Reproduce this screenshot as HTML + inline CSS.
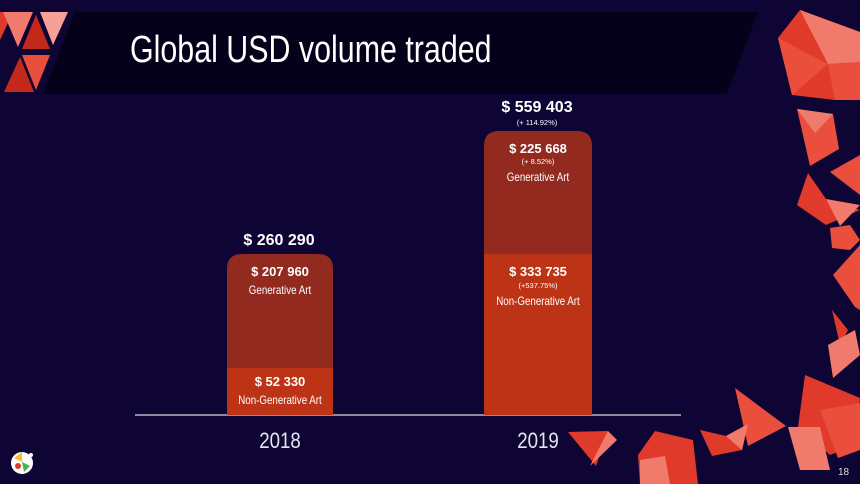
<!DOCTYPE html>
<html><head><meta charset="utf-8"><style>
html,body{margin:0;padding:0;background:#0f0535;}
svg{display:block}
text{font-family:"Liberation Sans",sans-serif;fill:#fff}
</style></head><body>
<svg width="860" height="484" viewBox="0 0 860 484" xmlns="http://www.w3.org/2000/svg">
<rect width="860" height="484" fill="#0f0535"/>
<polygon points="75,12 758,12 727,94 43,94" fill="#05011a"/>
<text x="130" y="62" font-size="38" transform="translate(130,0) scale(0.80,1) translate(-130,0)" style="fill:#fff">Global USD volume traded</text>
<polygon points="0,12 13,12 0,40" fill="#e03a2a"/>
<polygon points="3,12 33,12 18,47" fill="#f07a6c"/>
<polygon points="40,12 68,12 53,45" fill="#f5a196"/>
<polygon points="22,49 36,15 50,49" fill="#c4281a"/>
<polygon points="22,55 50,55 36,90" fill="#e94f3c"/>
<polygon points="4,92 20,57 34,92" fill="#c4281a"/>
<polygon points="800,10 860,32 860,80 835,100 792,95 778,38" fill="#e03a2a"/>
<polygon points="800,10 860,32 860,62 828,64" fill="#f07a6c"/>
<polygon points="778,38 828,64 792,95" fill="#e94f3c"/>
<polygon points="828,64 860,62 860,100 835,100" fill="#e94f3c"/>
<polygon points="797,109 833,114 839,149 810,166" fill="#e94f3c"/>
<polygon points="797,109 833,114 815,133" fill="#f07a6c"/>
<polygon points="830,172 860,155 860,195" fill="#e94f3c"/>
<polygon points="808,173 826,199 860,210 826,225 797,205" fill="#e03a2a"/>
<polygon points="826,199 860,205 840,226" fill="#f07a6c"/>
<polygon points="830,228 850,225 860,240 850,250 832,248" fill="#e94f3c"/>
<polygon points="833,275 860,245 860,310 855,307" fill="#e94f3c"/>
<polygon points="832,310 848,330 840,345" fill="#e03a2a"/>
<polygon points="828,345 855,330 860,355 833,378" fill="#f07a6c"/>
<polygon points="735,388 786,426 748,446" fill="#e94f3c"/>
<polygon points="700,430 726,436 748,424 742,450 712,456" fill="#e03a2a"/>
<polygon points="726,436 748,424 742,450" fill="#f07a6c"/>
<polygon points="805,375 860,398 855,445 830,455 798,427" fill="#e03a2a"/>
<polygon points="788,427 820,427 830,470 800,470" fill="#f07a6c"/>
<polygon points="820,410 860,403 860,450 838,458" fill="#e94f3c"/>
<polygon points="568,432 608,431 596,466" fill="#e03a2a"/>
<polygon points="590,466 608,431 617,440" fill="#f07a6c"/>
<polygon points="655,431 693,440 698,484 640,484 638,455" fill="#e03a2a"/>
<polygon points="640,460 665,456 670,484 640,484" fill="#f07a6c"/>
<line x1="135" y1="415" x2="681" y2="415" stroke="#b8b8c4" stroke-width="1.5"/>
<path d="M227,415 V269 Q227,254 242,254 H318 Q333,254 333,269 V415 Z" fill="#922a1f"/>
<rect x="227" y="368" width="106" height="47" fill="#bd3316"/>
<path d="M484,254 V146 Q484,131 499,131 H577 Q592,131 592,146 V254 Z" fill="#922a1f"/>
<rect x="484" y="254" width="108" height="161" fill="#bd3316"/>
<g text-anchor="middle">
<text x="279" y="245" font-size="16" font-weight="bold">$ 260  290</text>
<text x="280" y="276" font-size="13" font-weight="bold">$ 207 960</text>
<text x="280" y="294" font-size="11.5" transform="translate(280,0) scale(0.85,1) translate(-280,0)">Generative Art</text>
<text x="280" y="386" font-size="13" font-weight="bold">$ 52 330</text>
<text x="280" y="404" font-size="11.5" transform="translate(280,0) scale(0.85,1) translate(-280,0)">Non-Generative Art</text>
<text x="537" y="112" font-size="16" font-weight="bold">$ 559  403</text>
<text x="537" y="125" font-size="7.5">(+ 114.92%)</text>
<text x="538" y="153" font-size="13" font-weight="bold">$ 225  668</text>
<text x="538" y="164" font-size="7.5">(+ 8.52%)</text>
<text x="538" y="181" font-size="11.5" transform="translate(538,0) scale(0.85,1) translate(-538,0)">Generative Art</text>
<text x="538" y="276" font-size="13" font-weight="bold">$ 333  735</text>
<text x="538" y="288" font-size="7.5">(+537.75%)</text>
<text x="538" y="305" font-size="11.5" transform="translate(538,0) scale(0.85,1) translate(-538,0)">Non-Generative Art</text>
<text x="280" y="448" font-size="22" transform="translate(280,0) scale(0.85,1) translate(-280,0)" style="fill:#e6e6ee">2018</text>
<text x="538" y="448" font-size="22" transform="translate(538,0) scale(0.85,1) translate(-538,0)" style="fill:#e6e6ee">2019</text>
</g>
<text x="838" y="475" font-size="10" style="fill:#ddd">18</text>
<circle cx="22" cy="463" r="11" fill="#fff"/>
<polygon points="14,458 22,452 22,462" fill="#f5c020"/>
<polygon points="22,462 30,466 24,472" fill="#4caf50"/>
<circle cx="18" cy="466" r="3" fill="#e03a2a"/>
<circle cx="31" cy="455" r="2" fill="#fff"/>
</svg>
</body></html>
